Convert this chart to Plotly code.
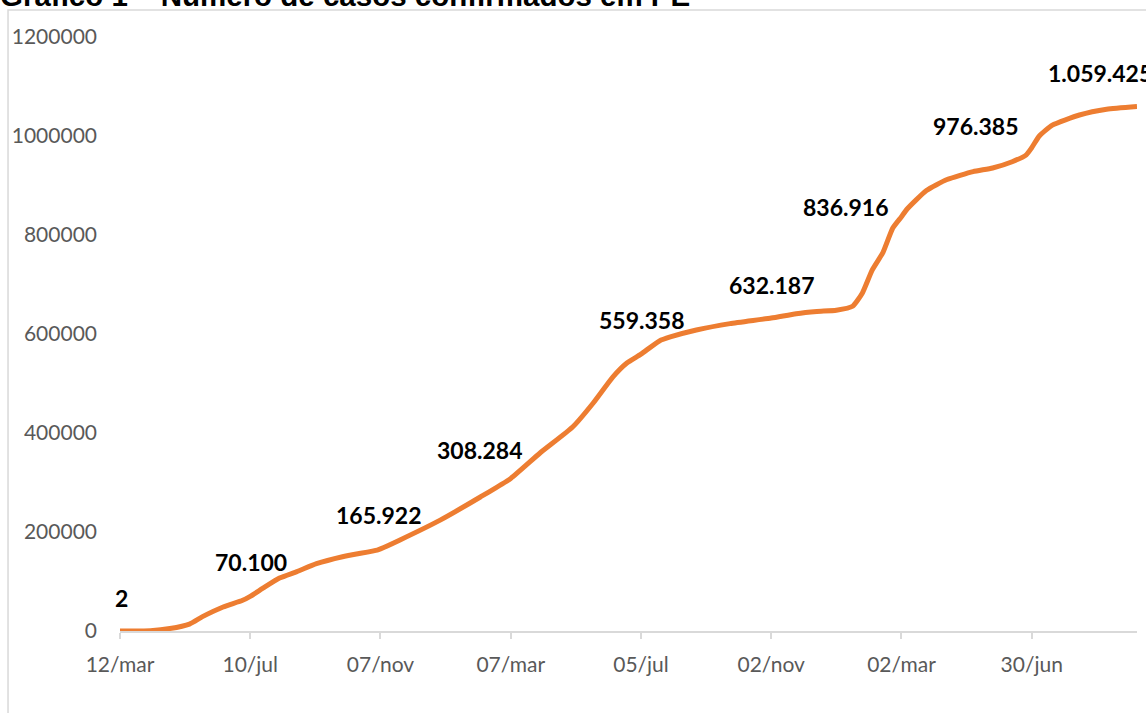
import plotly.graph_objects as go

# Cumulative confirmed cases in PE
dates = [
    "2020-03-12", "2020-04-09", "2020-04-27", "2020-05-15", "2020-05-27", "2020-06-15",
    "2020-07-03", "2020-07-10", "2020-07-22", "2020-08-06", "2020-08-22", "2020-09-09",
    "2020-10-03", "2020-11-04", "2020-11-07", "2020-11-25", "2021-01-01", "2021-02-07",
    "2021-03-07", "2021-04-03", "2021-05-03", "2021-05-22", "2021-06-09", "2021-06-22",
    "2021-07-05", "2021-07-22", "2021-08-01", "2021-08-25", "2021-09-25", "2021-11-02",
    "2021-11-25", "2021-12-14", "2022-01-01", "2022-01-16", "2022-01-25", "2022-02-03",
    "2022-02-13", "2022-02-22", "2022-03-02", "2022-03-07", "2022-03-25", "2022-04-13",
    "2022-05-07", "2022-05-25", "2022-06-12", "2022-06-25", "2022-06-30", "2022-07-07",
    "2022-07-19", "2022-08-13", "2022-09-07", "2022-10-05",
]
cases = [
    2, 700, 5000, 14000, 29000, 48500,
    62000, 70100, 86900, 107000, 120000, 136000,
    150000, 163500, 165922, 184000, 224000, 270700,
    308284, 359600, 412000, 460600, 513000, 541400,
    559358, 586000, 594000, 608000, 621000, 632187,
    641000, 645500, 648000, 656000, 683000, 729000,
    765000, 814000, 836916, 852000, 890000, 912000,
    928000, 935400, 948000, 962000, 976385, 1000000,
    1022000, 1042400, 1054000, 1059425,
]

# Highlighted data labels
label_dates = ["2020-03-12", "2020-07-10", "2020-11-07", "2021-03-07", "2021-07-05",
               "2021-11-02", "2022-03-02", "2022-06-30", "2022-10-05"]
label_values = [2, 70100, 165922, 308284, 559358, 632187, 836916, 976385, 1059425]
label_texts = ["2", "70.100", "165.922", "308.284", "559.358", "632.187",
               "836.916", "976.385", "1.059.425"]
label_dx = [1, 1, -1, -31, 1, 1, -55, -56, -37]
label_dy = [33, 34, 34, 28, 34, 33, 10, 22, 34]

tick_dates = ["2020-03-12", "2020-07-10", "2020-11-07", "2021-03-07",
              "2021-07-05", "2021-11-02", "2022-03-02", "2022-06-30"]
tick_labels = ["12/mar", "10/jul", "07/nov", "07/mar", "05/jul", "02/nov", "02/mar", "30/jun"]

y_ticks = [0, 200000, 400000, 600000, 800000, 1000000, 1200000]
y_tick_labels = [str(v) for v in y_ticks]

title_text = "Gráfico 1 – Número de casos confirmados em PE"

fig = go.Figure()
fig.add_trace(go.Scatter(
    x=dates, y=cases, mode="lines",
    line=dict(color="#ED7D31", width=5, shape="spline", smoothing=0.5),
    hoverinfo="x+y", showlegend=False,
))

for d, v, t, dx, dy in zip(label_dates, label_values, label_texts, label_dx, label_dy):
    fig.add_annotation(
        x=d, y=v, xref="x", yref="y", text=t, showarrow=False,
        xshift=dx, yshift=dy, xanchor="center", yanchor="middle",
        font=dict(family="Lato", size=23, color="#000000", weight="bold"),
    )

fig.add_annotation(
    x=-0.120, y=1.039, xref="paper", yref="paper", text="<b>" + title_text + "</b>",
    showarrow=False, xanchor="left", yanchor="bottom",
    font=dict(family="Liberation Sans, Arial", size=29.5, color="#000000"),
)

# chart frame
fig.add_shape(type="rect", xref="paper", yref="paper",
              x0=-0.1101, x1=1.05, y0=-0.25, y1=1.0455,
              line=dict(color="#D9D9D9", width=1.5), layer="below")

fig.update_layout(
    width=1146, height=713,
    margin=dict(l=120, r=9, t=37, b=82),
    paper_bgcolor="white", plot_bgcolor="white",
    font=dict(family="Lato", color="#595959"),
    xaxis=dict(
        type="date", range=["2020-03-12", "2022-10-05"],
        tickmode="array", tickvals=tick_dates, ticktext=tick_labels,
        ticks="outside", ticklen=6, tickcolor="#D9D9D9", tickwidth=1.5,
        showline=True, linecolor="#D9D9D9", linewidth=1.5,
        showgrid=False, zeroline=False,
        tickfont=dict(family="Lato", size=21, color="#595959"),
        ticklabelstandoff=8,
    ),
    yaxis=dict(
        range=[0, 1200000], tickmode="array", tickvals=y_ticks, ticktext=y_tick_labels,
        showline=False, showgrid=False, zeroline=False, ticks="",
        tickfont=dict(family="Lato", size=21, color="#595959"),
        ticklabelstandoff=22,
    ),
)

fig.write_html("out.html", config={"displayModeBar": False},
               post_script="document.body.style.margin='0';")
